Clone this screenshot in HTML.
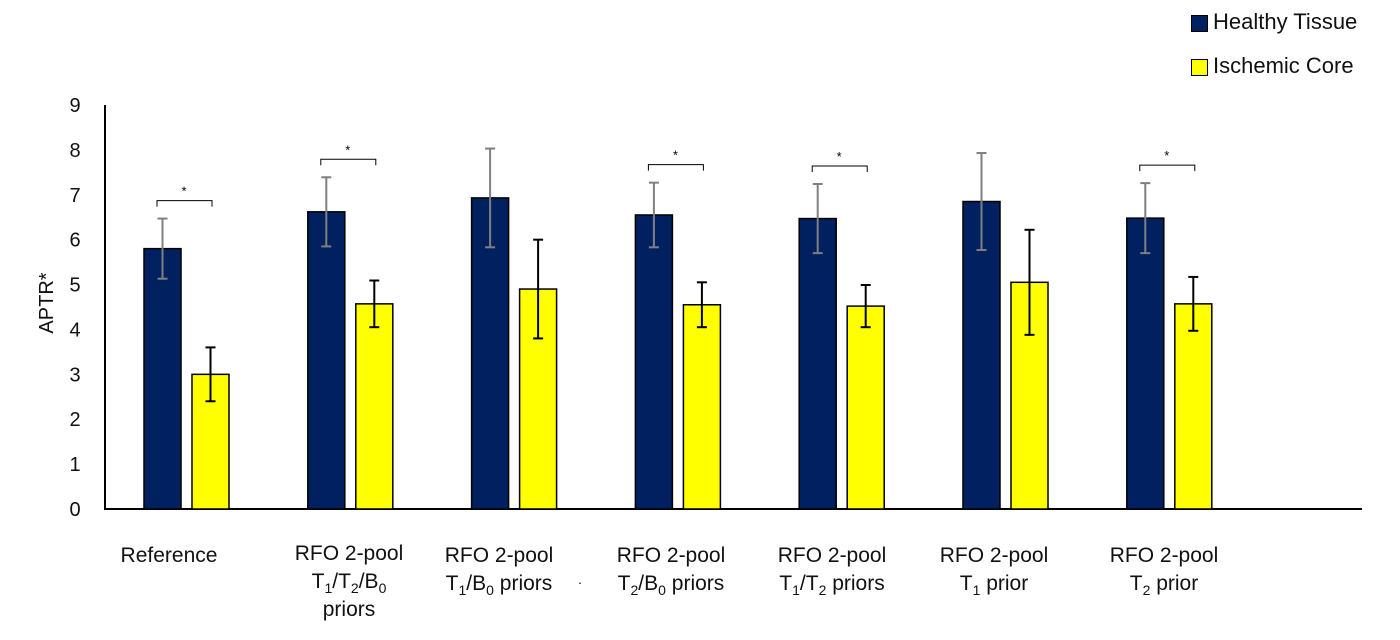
<!DOCTYPE html>
<html><head><meta charset="utf-8">
<style>
body{margin:0;background:#fff;width:1400px;height:640px;overflow:hidden;position:relative;font-family:"Liberation Sans",Arial,sans-serif;}
.lbl{position:absolute;transform:translateX(-50%);text-align:center;font-size:21px;line-height:28px;color:#111;white-space:nowrap;}
.lbl sub{font-size:14px;line-height:0;}
.leg{position:absolute;font-size:22px;color:#111;}
.sw{position:absolute;width:15px;height:15px;border:1.5px solid #000;}
</style></head>
<body>
<svg id="chart" width="1400" height="640" style="position:absolute;left:0;top:0"></svg>

<div class="sw" style="left:1191px;top:15px;background:#002060"></div>
<div class="leg" style="left:1213px;top:9px">Healthy Tissue</div>
<div class="sw" style="left:1191px;top:59px;background:#ffff00"></div>
<div class="leg" style="left:1213px;top:53px">Ischemic Core</div>

<div class="lbl" style="left:169px;top:542px">Reference</div>
<div class="lbl" style="left:349px;top:540px">RFO 2-pool<br>T<sub>1</sub>/T<sub>2</sub>/B<sub>0</sub><br>priors</div>
<div class="lbl" style="left:499px;top:542px">RFO 2-pool<br>T<sub>1</sub>/B<sub>0</sub> priors</div>
<div class="lbl" style="left:671px;top:542px">RFO 2-pool<br>T<sub>2</sub>/B<sub>0</sub> priors</div>
<div class="lbl" style="left:832px;top:542px">RFO 2-pool<br>T<sub>1</sub>/T<sub>2</sub> priors</div>
<div class="lbl" style="left:994px;top:542px">RFO 2-pool<br>T<sub>1</sub> prior</div>
<div class="lbl" style="left:1164px;top:542px">RFO 2-pool<br>T<sub>2</sub> prior</div>
<div class="lbl" style="left:580px;top:568px;font-size:14px">·</div>

<script>
const categories=["Reference","RFO 2-pool T1/T2/B0 priors","RFO 2-pool T1/B0 priors","RFO 2-pool T2/B0 priors","RFO 2-pool T1/T2 priors","RFO 2-pool T1 prior","RFO 2-pool T2 prior"];
const healthy=[5.8,6.62,6.93,6.55,6.47,6.85,6.48];
const healthyErr=[0.67,0.77,1.1,0.72,0.77,1.08,0.78];
const ischemic=[3.0,4.57,4.9,4.55,4.52,5.05,4.57];
const ischemicErr=[0.6,0.52,1.1,0.5,0.47,1.17,0.6];
const significant=[true,true,false,true,true,false,true];
const yTicks=[0,1,2,3,4,5,6,7,8,9];

const NS="http://www.w3.org/2000/svg";
const svg=document.getElementById('chart');
const y0=509,yTop=105,yMax=9;
function yS(v){return y0-(y0-yTop)*v/yMax;}
function xC(i){return 186+163.8*i;}
function mk(t,a){const e=document.createElementNS(NS,t);for(const k in a)e.setAttribute(k,a[k]);svg.appendChild(e);return e;}

let e=mk('line',{x1:105,y1:y0,x2:1362,y2:y0,stroke:'#000','stroke-width':2});

e=mk('line',{x1:105,y1:yTop,x2:105,y2:y0+1,stroke:'#000','stroke-width':2});


yTicks.forEach(t=>{
  const tx=mk('text',{x:75,y:yS(t)+7,'font-size':20,'text-anchor':'middle',fill:'#111','font-family':'Liberation Sans, sans-serif'});
  tx.textContent=t;
  
});
const yt=mk('text',{x:0,y:0,'font-size':20,'text-anchor':'middle',fill:'#111',transform:'translate(53,303) rotate(-90)','font-family':'Liberation Sans, sans-serif'});
yt.textContent='APTR*';


const bw=37;
function errBar(cx,v,err,col,name){
  const g=[[cx,yS(v+err),cx,yS(v-err)],[cx-5,yS(v+err),cx+5,yS(v+err)],[cx-5,yS(v-err),cx+5,yS(v-err)]];
  g.forEach(c=>{const l=mk('line',{x1:c[0],y1:c[1],x2:c[2],y2:c[3],stroke:col,'stroke-width':2});
    });
}
categories.forEach((c,i)=>{
  const cx=xC(i);
  const hx=cx-42, ix=cx+6;
  let r=mk('rect',{x:hx,y:yS(healthy[i]),width:bw,height:y0-yS(healthy[i]),fill:'#002060',stroke:'#000','stroke-width':1.5});
  
  r=mk('rect',{x:ix,y:yS(ischemic[i]),width:bw,height:y0-yS(ischemic[i]),fill:'#ffff00',stroke:'#000','stroke-width':1.5});
  
  errBar(hx+bw/2,healthy[i],healthyErr[i],'#7f7f7f','error-bar-healthy');
  errBar(ix+bw/2,ischemic[i],ischemicErr[i],'#000','error-bar-ischemic');
  if(significant[i]){
    const top=Math.min(yS(healthy[i]+healthyErr[i]),yS(ischemic[i]+ischemicErr[i]))-18;
    const p=mk('path',{d:`M${cx-29},${top+6}V${top}H${cx+26}V${top+6}`,fill:'none',stroke:'#000','stroke-width':1});
    
    const s=mk('text',{x:cx-2,y:top-5,'font-size':13,'text-anchor':'middle',fill:'#000','font-family':'Liberation Sans, sans-serif'});
    s.textContent='*';
    
  }
});
</script>
</body></html>
